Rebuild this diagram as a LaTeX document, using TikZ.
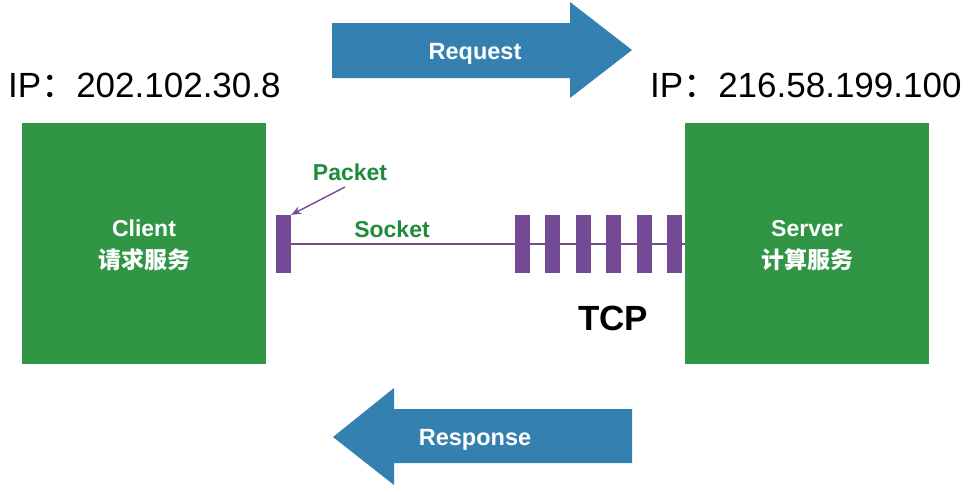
\documentclass[tikz,border=0pt]{standalone}
\usepackage{fontspec}
\setmainfont{Liberation Sans}
\newfontfamily\cjk{Noto Sans CJK SC}
\usetikzlibrary{arrows.meta}
\definecolor{boxgreen}{RGB}{48,150,70}
\definecolor{arrblue}{RGB}{52,128,176}
\definecolor{pkt}{RGB}{117,74,148}
\definecolor{lblgreen}{RGB}{30,140,60}
\tikzset{
  hostbox/.style={fill=boxgreen, draw=none, minimum width=244pt, minimum height=241pt, inner sep=0pt},
  bar/.style={fill=pkt, draw=none, minimum width=15pt, minimum height=58pt, inner sep=0pt},
  bigarrow/.style={fill=arrblue, draw=none},
  hosttext/.style={text=white, font=\fontsize{23}{32}\selectfont\bfseries, align=center},
  arrtext/.style={text=white, font=\fontsize{23.5}{28}\selectfont\bfseries, anchor=base, inner sep=0pt},
  iptext/.style={font=\fontsize{35}{40}\selectfont, inner sep=0pt, anchor=base west},
  green lbl/.style={text=lblgreen, font=\fontsize{23}{28}\selectfont\bfseries, anchor=base, inner sep=0pt},
}
\begin{document}
\begin{tikzpicture}[x=1pt,y=-1pt]
\useasboundingbox (0,0) rectangle (971,491);
\fill[white] (0,0) rectangle (971,491);
% hosts
\node[hostbox] (client) at (144,243.5) {};
\node[hostbox] (server) at (807,243.5) {};
\node[hosttext] (clienttxt) at (144,245.5) {Client\\{\cjk 请求服务}};
\node[hosttext] (servertxt) at (807,245.5) {Server\\{\cjk 计算服务}};
% IP labels
\node[iptext] (ipc) at (8,97) {IP{\cjk ：}202.102.30.8};
\node[iptext] (ips) at (650,97) {IP{\cjk ：}216.58.199.100};
% request arrow
\fill[bigarrow] (332,23) -- (570,23) -- (570,2) -- (632,50) -- (570,98) -- (570,78) -- (332,78) -- cycle;
\node[arrtext] (req) at (475,59) {Request};
% response arrow
\fill[bigarrow] (632,409) -- (394,409) -- (394,388) -- (333,437) -- (394,485) -- (394,463) -- (632,463) -- cycle;
\node[arrtext] (resp) at (475,445) {Response};
% socket line and packets
\node[bar] (p0) at (283.5,244) {};
\node[bar] (p1) at (522,244) {};
\node[bar] (p2) at (552.5,244) {};
\node[bar] (p3) at (583,244) {};
\node[bar] (p4) at (613.5,244) {};
\node[bar] (p5) at (644,244) {};
\node[bar] (p6) at (674.5,244) {};
\draw[pkt, line width=1.8pt] (p0.east |- 0,244) -- (server.west |- 0,244);
\node[green lbl] (packet) at (350,180) {Packet};
\node[green lbl] (socket) at (392,237) {Socket};
\coordinate (pktstart) at (345,187);
\draw[pkt, line width=1.4pt, -{Stealth[length=10pt,width=8pt]}] (pktstart) -- (p0.north east);
\node[font=\fontsize{35}{40}\selectfont\bfseries, anchor=base, inner sep=0pt] (tcp) at (613,330) {TCP};
\end{tikzpicture}
\end{document}
